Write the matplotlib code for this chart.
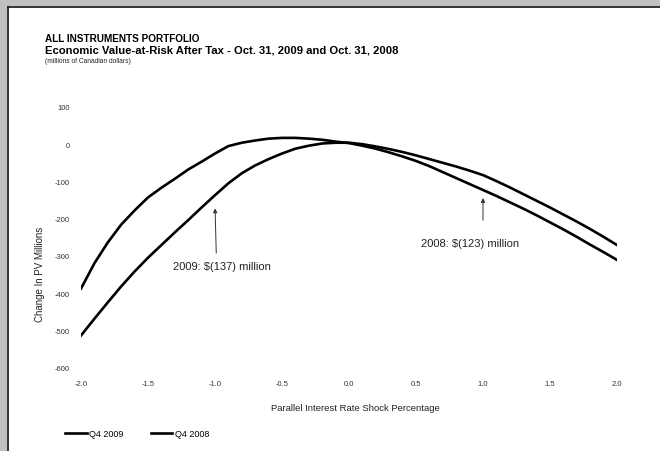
import matplotlib
matplotlib.use("Agg")
import matplotlib.pyplot as plt
from matplotlib.patches import Rectangle
from matplotlib.lines import Line2D

plt.rcParams['font.family'] = ['Liberation Sans', 'DejaVu Sans']

# parallel shock (%) and change in PV (C$ millions)
shock = [-2.0, -1.9, -1.8, -1.7, -1.6, -1.5, -1.4, -1.3, -1.2, -1.1, -1.0,
         -0.9, -0.8, -0.7, -0.6, -0.5, -0.4, -0.3, -0.2, -0.1, 0.0,
         0.1, 0.2, 0.3, 0.4, 0.5, 0.6, 0.7, 0.8, 0.9, 1.0,
         1.1, 1.2, 1.3, 1.4, 1.5, 1.6, 1.7, 1.8, 1.9, 2.0]
q4_2009 = [-514, -469, -425, -382, -342, -305, -271, -237, -204, -170, -137,
           -105, -78, -57, -40, -25, -12, -4, 2, 4, 4,
           0, -6, -13, -21, -30, -40, -50, -60, -71, -83,
           -99, -116, -134, -152, -170, -189, -208, -228, -249, -271]
q4_2008 = [-388, -320, -264, -216, -178, -143, -117, -93, -68, -47, -25,
           -5, 4, 10, 15, 17, 17, 15, 12, 7, 3,
           -4, -12, -22, -33, -45, -59, -75, -91, -107, -123,
           -139, -156, -173, -191, -210, -229, -249, -270, -290, -311]

yticks = [100, 0, -100, -200, -300, -400, -500, -600]
xticks = [-2.0, -1.5, -1.0, -0.5, 0.0, 0.5, 1.0, 1.5, 2.0]

W, H = 660, 452
fig = plt.figure(figsize=(6.6, 4.52), dpi=100)
fig.patch.set_facecolor('white')

# gray surround on left/top with a dark page edge
fig.add_artist(Rectangle((0, 0), 7 / W, 1, transform=fig.transFigure,
                         facecolor='#c0c0c0', edgecolor='none', zorder=-2))
fig.add_artist(Rectangle((0, 1 - 7 / H), 1, 7 / H, transform=fig.transFigure,
                         facecolor='#c0c0c0', edgecolor='none', zorder=-2))
fig.add_artist(Line2D([7.5 / W, 7.5 / W], [0, 1 - 7.5 / H], transform=fig.transFigure,
                      color='#222222', lw=1.3, zorder=-1))
fig.add_artist(Line2D([7.5 / W, 1], [1 - 7.5 / H, 1 - 7.5 / H], transform=fig.transFigure,
                      color='#222222', lw=1.3, zorder=-1))

ax = fig.add_axes([81 / W, (H - 368.5) / H, 536 / W, 260.5 / H])
ax.patch.set_alpha(0)
ax.plot(shock, q4_2009, color='black', lw=1.9, label='Q4 2009')
ax.plot(shock, q4_2008, color='black', lw=1.9, label='Q4 2008')

ax.set_xlim(-2.0, 2.0)
ax.set_ylim(-600, 100)
ax.set_xticks(xticks)
ax.set_xticklabels([f"{t:.1f}" for t in xticks])
ax.set_yticks(yticks)
ax.set_yticklabels([str(t) for t in yticks])
for s in ax.spines.values():
    s.set_visible(False)
ax.tick_params(axis='both', length=0, labelsize=5.5, colors='#333333')
ax.tick_params(axis='x', pad=9)
ax.tick_params(axis='y', pad=8)

# annotations
ax.annotate('', xy=(-1.0, -165), xytext=(-0.99, -300),
            arrowprops=dict(arrowstyle='-|>', color='#333333', lw=0.7,
                            mutation_scale=6))
ax.text(-0.95, -328, '2009: $(137) million', ha='center', va='center',
        fontsize=8, color='#222222')
ax.annotate('', xy=(1.0, -137), xytext=(1.0, -212),
            arrowprops=dict(arrowstyle='-|>', color='#333333', lw=0.7,
                            mutation_scale=6))
ax.text(0.9, -266, '2008: $(123) million', ha='center', va='center',
        fontsize=8, color='#222222')

# titles
fig.text(45 / W, 1 - 38.5 / H, 'ALL INSTRUMENTS PORTFOLIO', fontsize=7.2,
         fontweight='bold', va='center', ha='left')
fig.text(45 / W, 1 - 50.5 / H,
         'Economic Value-at-Risk After Tax - Oct. 31, 2009 and Oct. 31, 2008',
         fontsize=8.1, fontweight='bold', va='center', ha='left')
fig.text(45 / W, 1 - 61.5 / H, '(millions of Canadian dollars)', fontsize=4.8,
         va='center', ha='left', color='#222222')

fig.text(40 / W, 1 - 274 / H, 'Change In PV Millions', rotation=90,
         fontsize=7, ha='center', va='center', color='#222222')
fig.text(355 / W, 1 - 409 / H, 'Parallel Interest Rate Shock Percentage',
         fontsize=6.8, ha='center', va='center', color='#222222')

fig.legend(loc='center left', bbox_to_anchor=(65 / W, 1 - 435 / H), ncol=2,
           frameon=False, fontsize=6.5, handlelength=2.4, handletextpad=0.3,
           columnspacing=3.0, borderaxespad=0, borderpad=0)

fig.savefig('out.png', dpi=100, facecolor=fig.get_facecolor())
